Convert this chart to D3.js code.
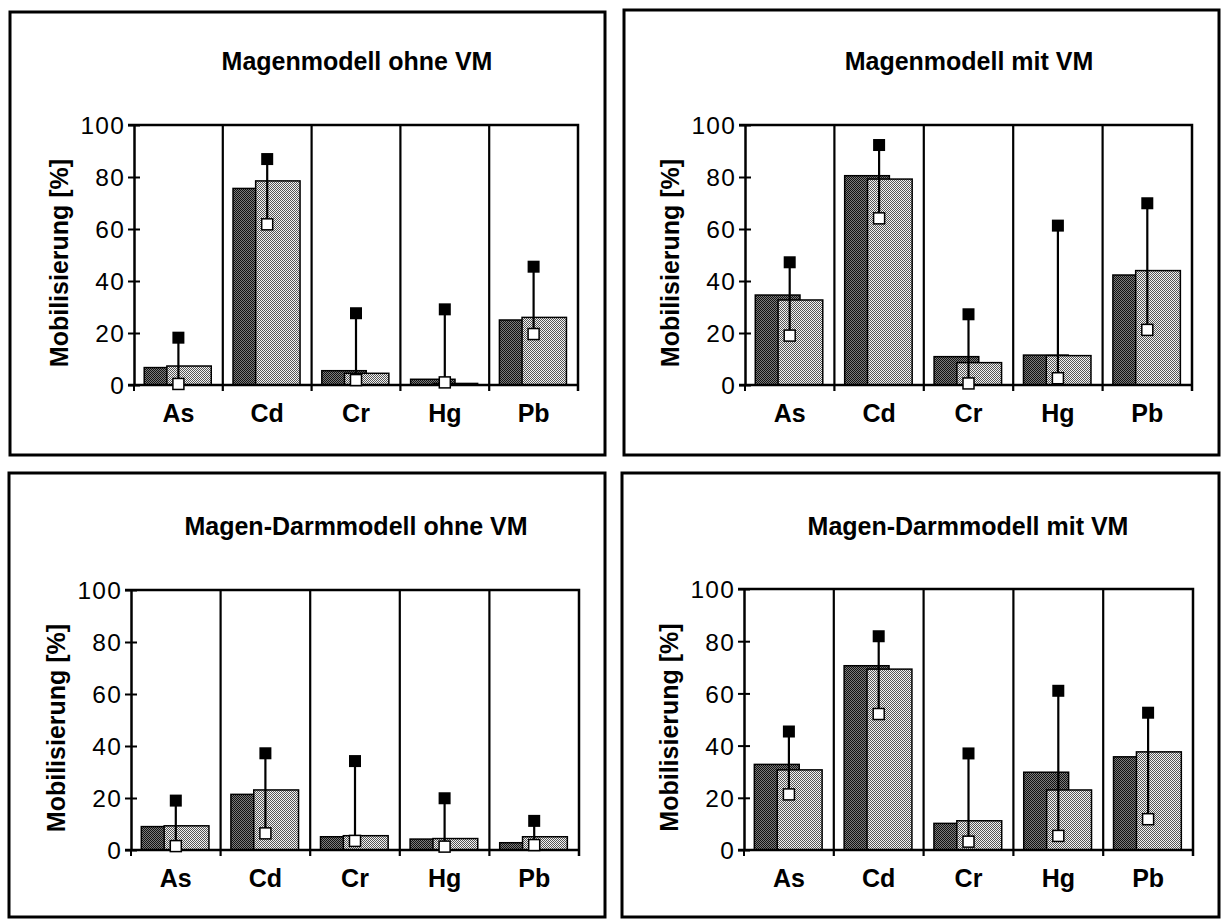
<!DOCTYPE html>
<html>
<head>
<meta charset="utf-8">
<script src="https://cdn.jsdelivr.net/npm/d3@7"></script>
<style>
  html, body { margin: 0; padding: 0; background: #fff; }
  svg { display: block; }
  text { font-family: "Liberation Sans", Arial, sans-serif; fill: #000; }
</style>
</head>
<body>
<svg id="chart" width="1222" height="919"></svg>
<script>
// Elements on the x axis
const categories = ["As", "Cd", "Cr", "Hg", "Pb"];
const yTicks = [0, 20, 40, 60, 80, 100];
const yLabel = "Mobilisierung [%]";

// Magenmodell ohne VM
const magenOhneDark  = [6.7, 75.6, 5.5, 2.2, 25.0];
const magenOhneLight = [7.3, 78.5, 4.5, 0.6, 26.0];
const magenOhneMax   = [18.2, 86.9, 27.6, 29.1, 45.5];
const magenOhneMin   = [0.4, 61.8, 1.9, 1.0, 19.6];

// Magenmodell mit VM
const magenMitDark  = [34.6, 80.5, 10.9, 11.5, 42.3];
const magenMitLight = [32.7, 79.2, 8.6, 11.3, 44.0];
const magenMitMax   = [47.2, 92.3, 27.2, 61.3, 69.9];
const magenMitMin   = [19.0, 64.1, 0.6, 2.6, 21.2];

// Magen-Darmmodell ohne VM
const darmOhneDark  = [9.0, 21.4, 5.1, 4.2, 2.8];
const darmOhneLight = [9.3, 23.1, 5.5, 4.4, 5.1];
const darmOhneMax   = [19.0, 37.2, 34.2, 19.9, 11.2];
const darmOhneMin   = [1.5, 6.4, 3.5, 1.3, 1.9];

// Magen-Darmmodell mit VM
const darmMitDark  = [32.8, 70.6, 10.2, 29.8, 35.7];
const darmMitLight = [30.7, 69.3, 11.2, 23.0, 37.6];
const darmMitMax   = [45.4, 81.9, 37.0, 61.0, 52.6];
const darmMitMin   = [21.3, 52.1, 3.2, 5.4, 11.8];

const panels = [
  { title: "Magenmodell ohne VM", dark: magenOhneDark, light: magenOhneLight, max: magenOhneMax, min: magenOhneMin,
    box: [10, 12, 605, 455], plot: [134, 125, 578, 385], titleX: 357, titleY: 70 },
  { title: "Magenmodell mit VM", dark: magenMitDark, light: magenMitLight, max: magenMitMax, min: magenMitMin,
    box: [624, 10, 1219, 455], plot: [745, 125, 1192, 385], titleX: 969, titleY: 70 },
  { title: "Magen-Darmmodell ohne VM", dark: darmOhneDark, light: darmOhneLight, max: darmOhneMax, min: darmOhneMin,
    box: [9, 473, 605, 917], plot: [131, 590, 579, 850], titleX: 356, titleY: 535 },
  { title: "Magen-Darmmodell mit VM", dark: darmMitDark, light: darmMitLight, max: darmMitMax, min: darmMitMin,
    box: [622, 473, 1219, 917], plot: [744, 589, 1193, 850], titleX: 968, titleY: 535 }
];

const svg = d3.select("#chart");

// Dithered fills for the two bar series
const defs = svg.append("defs");
function checker(id, a, b) {
  const p = defs.append("pattern").attr("id", id)
    .attr("patternUnits", "userSpaceOnUse").attr("width", 2).attr("height", 2);
  p.append("rect").attr("width", 2).attr("height", 2).attr("fill", b);
  p.append("rect").attr("width", 1).attr("height", 1).attr("fill", a);
  p.append("rect").attr("x", 1).attr("y", 1).attr("width", 1).attr("height", 1).attr("fill", a);
}
checker("darkFill", "#111", "#7c7c7c");
checker("lightFill", "#555", "#f2f2f2");

panels.forEach(pn => {
  const [bx0, by0, bx1, by1] = pn.box;
  const [px0, py0, px1, py1] = pn.plot;
  const g = svg.append("g");

  // panel frame
  g.append("rect").attr("x", bx0).attr("y", by0)
    .attr("width", bx1 - bx0).attr("height", by1 - by0)
    .attr("fill", "none").attr("stroke", "#000").attr("stroke-width", 3);

  // title
  g.append("text").attr("x", pn.titleX).attr("y", pn.titleY)
    .attr("text-anchor", "middle").attr("font-weight", "bold")
    .attr("font-size", 25).text(pn.title);

  const x = d3.scaleBand().domain(categories).range([px0, px1]).padding(0);
  const y = d3.scaleLinear().domain([0, 100]).range([py1, py0]);
  const bw = x.bandwidth();

  // category separators (vertical gridlines at band edges)
  const edges = categories.map(c => x(c)).slice(1);
  g.selectAll(".sep").data(edges).join("line")
    .attr("x1", d => d).attr("x2", d => d)
    .attr("y1", py0).attr("y2", py1 + 6)
    .attr("stroke", "#000").attr("stroke-width", 2.2);

  // top and right frame of the plot area
  g.append("path")
    .attr("d", `M${px0 - 6},${py0}H${px1}V${py1 + 6}`)
    .attr("fill", "none").attr("stroke", "#000").attr("stroke-width", 2.5);

  // bars: dark series behind, light series overlapping in front
  g.selectAll(".dark").data(categories).join("rect")
    .attr("x", (c) => x(c) + bw * 0.115)
    .attr("width", bw * 0.5)
    .attr("y", (c, i) => y(pn.dark[i]))
    .attr("height", (c, i) => y(0) - y(pn.dark[i]))
    .attr("fill", "url(#darkFill)").attr("stroke", "#000").attr("stroke-width", 1.5);

  g.selectAll(".light").data(categories).join("rect")
    .attr("x", (c) => x(c) + bw * 0.37)
    .attr("width", bw * 0.5)
    .attr("y", (c, i) => y(pn.light[i]))
    .attr("height", (c, i) => y(0) - y(pn.light[i]))
    .attr("fill", "url(#lightFill)").attr("stroke", "#000").attr("stroke-width", 1.5);

  // y axis with ticks crossing the axis line
  const yAxis = g.append("g").attr("transform", `translate(${px0},0)`)
    .call(d3.axisLeft(y).tickValues(yTicks).tickSizeInner(6).tickSizeOuter(0).tickPadding(3));
  yAxis.select(".domain").attr("stroke-width", 2.5);
  yAxis.selectAll(".tick line").attr("x1", 6).attr("x2", -6).attr("stroke-width", 2);
  yAxis.selectAll(".tick text").attr("font-size", 24.5)
    .attr("letter-spacing", 1.2)
    .attr("font-family", "'Liberation Sans', Arial, sans-serif").attr("dy", "0.36em");

  // x axis
  const xAxis = g.append("g").attr("transform", `translate(0,${py1})`)
    .call(d3.axisBottom(x).tickSize(0).tickPadding(0));
  xAxis.select(".domain").attr("d", `M${px0 - 6},0H${px1}`).attr("stroke-width", 2.5);
  xAxis.selectAll(".tick text").attr("font-size", 25).attr("font-weight", "bold")
    .attr("font-family", "'Liberation Sans', Arial, sans-serif")
    .attr("y", 37).attr("dy", 0);
  // small ticks below the axis at the y axis and right edge
  g.selectAll(".edgeTick").data([px0, px1]).join("line")
    .attr("x1", d => d).attr("x2", d => d).attr("y1", py1).attr("y2", py1 + 6)
    .attr("stroke", "#000").attr("stroke-width", 2);

  // y axis title
  g.append("text")
    .attr("transform", `translate(${px0 - 66},${(py0 + py1) / 2 + 8}) rotate(-90)`)
    .attr("text-anchor", "middle").attr("font-weight", "bold").attr("font-size", 25)
    .text(yLabel);

  // range lines from minimum to maximum
  const cx = c => x(c) + bw * 0.5;
  g.selectAll(".range").data(categories).join("line")
    .attr("x1", cx).attr("x2", cx)
    .attr("y1", (c, i) => y(pn.min[i])).attr("y2", (c, i) => y(pn.max[i]))
    .attr("stroke", "#000").attr("stroke-width", 2.2);

  const s = 12;
  g.selectAll(".maxMark").data(categories).join("rect")
    .attr("x", c => cx(c) - s / 2).attr("y", (c, i) => y(pn.max[i]) - s / 2)
    .attr("width", s).attr("height", s).attr("fill", "#000");

  const w = 11;
  g.selectAll(".minMark").data(categories).join("rect")
    .attr("x", c => cx(c) - w / 2).attr("y", (c, i) => y(pn.min[i]) - w / 2)
    .attr("width", w).attr("height", w)
    .attr("fill", "#fff").attr("stroke", "#000").attr("stroke-width", 1.5);
});
</script>
</body>
</html>
